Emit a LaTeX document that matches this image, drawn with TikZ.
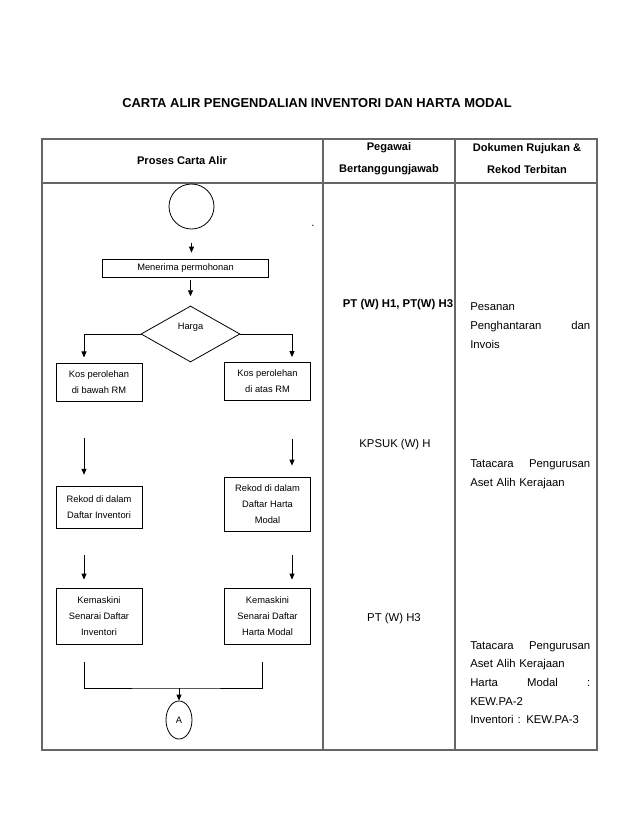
\documentclass[tikz,border=0pt]{standalone}
\usepackage{fontspec}
\setmainfont{Liberation Sans}
\usepackage{tikz}
\usetikzlibrary{shapes.geometric, arrows.meta, positioning}

\begin{document}
\begin{tikzpicture}[
    x=0.75pt, y=-0.75pt,
    every node/.style={font=\fontsize{7}{12}\selectfont},
    terminal/.style={circle, draw=black, line width=0.6pt, minimum size=33.75pt, inner sep=0pt},
    connector/.style={ellipse, draw=black, line width=0.6pt, minimum width=19.5pt, minimum height=28.5pt, inner sep=0pt},
    process/.style={rectangle, draw=black, line width=0.6pt, minimum width=64.5pt, text centered, align=center, inner sep=1pt},
    decision/.style={diamond, draw=black, line width=0.6pt, minimum width=74.25pt, minimum height=42pt, inner sep=0pt, text depth=12pt},
    grid/.style={draw=black!60, line width=1pt},
    head/.style={font=\fontsize{8.3}{16.5}\selectfont\bfseries, align=center},
    col/.style={font=\fontsize{8.5}{14.25}\selectfont, align=center},
    ref/.style={font=\fontsize{8.5}{14.25}\selectfont, text width=90pt, align=left, inner sep=0pt, anchor=north west},
    arrow/.style={-{Triangle[length=4.5pt, width=3.75pt]}, line width=0.6pt}
]
\useasboundingbox (0,0) rectangle (638,826);

% table
\draw [grid] (42,139) rectangle (597,750);
\draw [grid] (323,139) -- (323,750);
\draw [grid] (455,139) -- (455,750);
\draw [grid] (42,183) -- (597,183);

\node (judul) [font=\fontsize{9.7}{12}\selectfont\bfseries] at (317,103) {CARTA ALIR PENGENDALIAN INVENTORI DAN HARTA MODAL};
\node (hproses) [head] at (182,161) {Proses Carta Alir};
\node (hpegawai) [head] at (389,159) {Pegawai\\Bertanggungjawab};
\node (hdokumen) [head] at (527,158.5) {Dokumen Rujukan \&\\Rekod Terbitan};

% pegawai
\node (peg1) [col, font=\fontsize{8.5}{14.25}\selectfont\bfseries] at (398,305) {PT (W) H1, PT(W) H3};
\node (peg2) [col] at (395,445) {KPSUK (W) H};
\node (peg3) [col] at (394,619) {PT (W) H3};

% dokumen
\node (dok1) [ref] at (470,302) {Pesanan\\Penghantaran\hfill dan\\Invois};
\node (dok2) [ref] at (470,459) {Tatacara\hfill Pengurusan\\Aset Alih Kerajaan};
\node (dok3) [ref, font=\fontsize{8.5}{14}\selectfont] at (470,641) {Tatacara\hfill Pengurusan\\Aset Alih Kerajaan\\Harta\hfill Modal\hfill :\\KEW.PA-2\\Inventori : KEW.PA-3};

% carta alir
\node (mula) [terminal] at (191.5,206.5) {};
\node (titik) [font=\fontsize{8.5}{10}\selectfont] at (313,226) {.};
\node (terima) [process, minimum width=124pt, minimum height=13.5pt] at (185.5,268) {Menerima permohonan};
\node (harga) [decision] at (190.5,334) {Harga};
\node (kosbawah) [process, minimum height=29pt] at (99,382.5) {Kos perolehan\\di bawah RM};
\node (kosatas) [process, minimum height=28pt] at (267.5,381.5) {Kos perolehan\\di atas RM};
\node (rekinv) [process, minimum height=32pt] at (99,507.5) {Rekod di dalam\\Daftar Inventori};
\node (rekharta) [process, minimum height=40.5pt] at (267.5,504) {Rekod di dalam\\Daftar Harta\\Modal};
\node (keminv) [process, minimum height=42pt] at (99,616) {Kemaskini\\Senarai Daftar\\Inventori};
\node (kemharta) [process, minimum height=42pt] at (267.5,616) {Kemaskini\\Senarai Daftar\\Harta Modal};
\node (akhir) [connector] at (179,720) {A};

\coordinate (kiri) at (84,0);
\coordinate (kanan) at (292,0);
\coordinate (kanan2) at (262,0);
\coordinate (gabung) at (179,688);

\draw [arrow, shorten <=10.5pt, shorten >=4.5pt] (mula.south) -- (mula.south |- terima.north);
\draw [arrow, shorten <=2pt, shorten >=7pt] (terima.south -| harga) -- (harga.north);
\draw [arrow, shorten >=4pt] (harga.west) -| (kosbawah.north -| kiri);
\draw [arrow, shorten >=4pt] (harga.east) -| (kosatas.north -| kanan);
\draw [arrow, shorten <=27pt, shorten >=8.25pt] (kosbawah.south -| kiri) -- (rekinv.north -| kiri);
\draw [arrow, shorten <=28.5pt, shorten >=8.25pt] (kosatas.south -| kanan) -- (rekharta.north -| kanan);
\draw [arrow, shorten <=19.5pt, shorten >=6pt] (rekinv.south -| kiri) -- (keminv.north -| kiri);
\draw [arrow, shorten <=18pt, shorten >=6pt] (rekharta.south -| kanan) -- (kemharta.north -| kanan);
\draw [line width=0.6pt, shorten <=13.5pt, shorten >=13.5pt] (keminv.south -| kiri) |- (gabung) -| (kemharta.south -| kanan2);
\draw [arrow] (gabung) -- (akhir);

\end{tikzpicture}
\end{document}
